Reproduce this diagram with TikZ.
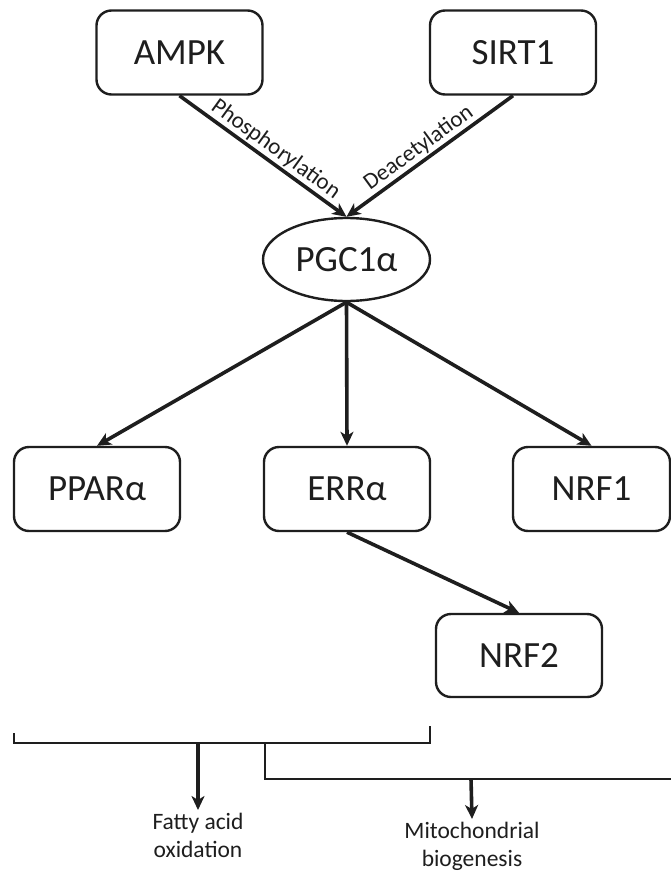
\documentclass[tikz,border=0pt]{standalone}
\usepackage{fontspec}
\setmainfont{Carlito}
\usetikzlibrary{arrows.meta,shapes.geometric}
\definecolor{ink}{HTML}{1E1E1E}
\begin{document}
\begin{tikzpicture}[x=1pt,y=-1pt,
  box/.style={draw=ink,line width=2.4pt,rounded corners=15pt,minimum width=166pt,minimum height=84pt,inner sep=0pt,text=ink,font=\fontsize{37}{44}\selectfont},
  oval/.style={draw=ink,line width=2.4pt,ellipse,minimum width=167pt,minimum height=83pt,inner sep=0pt,text=ink,font=\fontsize{37}{44}\selectfont},
  conn/.style={draw=ink,line width=3.6pt,-{Stealth[length=14pt,width=13pt,inset=4pt]}},
  brk/.style={draw=ink,line width=2.6pt},
  lbl/.style={text=ink,font=\fontsize{23}{26}\selectfont,inner sep=1.5pt},
  outtxt/.style={text=ink,font=\fontsize{23.5}{28}\selectfont,align=center,inner sep=3pt,anchor=north}]
\useasboundingbox[fill=white] (0,0) rectangle (671,872);

\node[box] (ampk) at (179.5,52.5) {AMPK};
\node[box] (sirt) at (513,52.5) {SIRT1};
\node[oval] (pgc) at (346.5,259.5) {PGC1α};
\node[box] (ppar) at (97,489) {PPARα};
\node[box] (err) at (347,489) {ERRα};
\node[box,minimum width=157pt] (nrf1) at (591.5,489) {NRF1};
\node[box,minimum height=83pt] (nrf2) at (519,655.5) {NRF2};

\draw[conn] (ampk.south) -- node[lbl,sloped,above,pos=0.53] {Phosphorylation} (pgc.north);
\draw[conn] (sirt.south) -- node[lbl,sloped,above,pos=0.52] {Deacetylation} (pgc.north);

\draw[conn] (pgc.south) -- (ppar.north);
\draw[conn] (pgc.south) -- (err.north);
\draw[conn] (pgc.south) -- (nrf1.north);
\draw[conn] (err.south) -- (nrf2.north);

\coordinate (bl) at (14,733);
\coordinate (blc) at (14,743);
\coordinate (brc) at (430,743);
\coordinate (br) at (430,726);
\coordinate (fa0) at (198,743);
\coordinate (mb0) at (265,743);
\coordinate (mb1) at (265,779);
\coordinate (mb2) at (671,779);
\coordinate (mb3) at (471,779);

\node[outtxt] (fa) at (198,810) {Fatty acid\\oxidation};
\node[outtxt] (mb) at (472,819) {Mitochondrial\\biogenesis};

\draw[brk] (bl) -- (blc) -- (brc) -- (br);
\draw[brk] (mb0) -- (mb1) -- (mb2);
\draw[conn] (fa0) -- (fa.north);
\draw[conn] (mb3) -- (mb.north);
\end{tikzpicture}
\end{document}
